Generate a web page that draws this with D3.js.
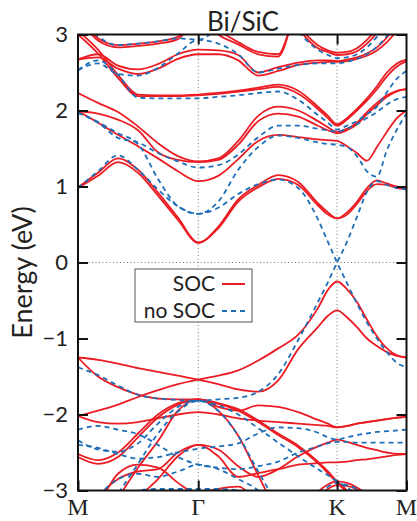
<!DOCTYPE html>
<html>
<head>
<meta charset="utf-8">
<script src="https://cdn.jsdelivr.net/npm/d3@7"></script>
<style>
  body { margin: 0; background: #fff; }
  #chart text { fill: #222; }
</style>
</head>
<body>
<div id="chart"></div>
<script>
// ------- data -------
// k path: M -> Gamma -> K -> M (path length units, |GK| = 1)
const kPoints = [0, 0.144, 0.288, 0.432, 0.576, 0.72, 0.866, 1.01, 1.154, 1.298, 1.442,
  1.586, 1.728, 1.8, 1.866, 1.937, 2.009, 2.081, 2.153, 2.225, 2.297, 2.366];
const kTickPos = [0, 0.866, 1.866, 2.366];
const kTickLabels = ["M", "Γ", "K", "M"];
const energyTicks = [-3, -2, -1, 0, 1, 2, 3];
const legendLabels = ["SOC", "no SOC"];

// SOC bands (eV), one value per kPoint
const soc01 = [0.99, 1.18, 1.37, 1.22, 0.92, 0.59, 0.26, 0.47, 0.83, 1.02, 1.15, 1.06, 0.78, 0.66, 0.58, 0.66, 0.80, 0.98, 1.08, 1.04, 1.00, 0.97];
const soc02 = [0.98, 1.14, 1.32, 1.18, 0.88, 0.56, 0.26, 0.45, 0.80, 0.99, 1.10, 1.02, 0.75, 0.63, 0.58, 0.63, 0.77, 0.94, 1.03, 1.02, 0.98, 0.97];
const soc03 = [1.99, 1.84, 1.68, 1.53, 1.37, 1.20, 1.07, 1.14, 1.36, 1.60, 1.68, 1.65, 1.62, 1.61, 1.60, 1.53, 1.44, 1.34, 1.52, 1.72, 1.90, 2.00];
const soc04 = [2.23, 2.10, 1.98, 1.79, 1.57, 1.40, 1.33, 1.37, 1.60, 1.93, 2.05, 2.00, 1.86, 1.78, 1.72, 1.76, 1.84, 1.98, 2.10, 2.20, 2.26, 2.28];
const soc05 = [1.99, 1.96, 1.88, 1.74, 1.45, 1.35, 1.32, 1.35, 1.55, 1.86, 1.96, 1.92, 1.80, 1.74, 1.70, 1.74, 1.82, 1.95, 2.07, 2.18, 2.25, 2.28];
const soc06 = [3.05, 2.80, 2.47, 2.21, 2.20, 2.20, 2.21, 2.23, 2.26, 2.30, 2.34, 2.26, 2.05, 1.93, 1.82, 1.90, 2.02, 2.16, 2.32, 2.50, 2.62, 2.67];
const soc07 = [3.00, 2.75, 2.43, 2.19, 2.19, 2.19, 2.20, 2.22, 2.25, 2.28, 2.31, 2.22, 2.02, 1.90, 1.80, 1.88, 2.00, 2.13, 2.28, 2.45, 2.58, 2.65];
const soc08 = [2.67, 2.74, 2.59, 2.54, 2.61, 2.74, 2.80, 2.79, 2.73, 2.50, 2.57, 2.63, 2.66, 2.66, 2.65, 2.67, 2.70, 2.75, 2.83, 2.96, 3.15, 3.30];
const soc09 = [2.67, 2.70, 2.55, 2.48, 2.55, 2.68, 2.74, 2.74, 2.66, 2.46, 2.52, 2.60, 2.63, 2.64, 2.64, 2.65, 2.68, 2.72, 2.79, 2.90, 3.05, 3.20];
const soc10 = [3.30, 2.95, 2.86, 2.88, 2.91, 2.97, 3.25, 3.00, 2.87, 2.74, 2.71, 3.40, 3.60, 3.60, 3.60, 3.60, 3.60, 3.60, 3.60, 3.60, 3.60, 3.60];
const soc11 = [3.25, 2.92, 2.83, 2.85, 2.88, 2.94, 3.20, 3.05, 2.90, 2.77, 2.74, 3.40, 3.60, 3.60, 3.60, 3.60, 3.60, 3.60, 3.60, 3.60, 3.60, 3.60];
const soc12 = [3.60, 3.60, 3.60, 3.60, 3.60, 3.60, 3.60, 3.60, 3.60, 3.60, 3.50, 3.08, 2.82, 2.77, 2.73, 2.74, 2.78, 2.88, 3.02, 3.20, 3.40, 3.50];
const soc13 = [3.60, 3.60, 3.60, 3.60, 3.60, 3.60, 3.60, 3.60, 3.60, 3.60, 3.50, 3.12, 2.86, 2.79, 2.76, 2.77, 2.82, 2.93, 3.08, 3.28, 3.50, 3.60];
const soc14 = [-2.02, -1.95, -1.87, -1.77, -1.68, -1.60, -1.54, -1.49, -1.42, -1.29, -1.13, -0.95, -0.60, -0.36, -0.25, -0.35, -0.52, -0.75, -0.97, -1.13, -1.22, -1.25];
const soc15 = [-1.25, -1.28, -1.33, -1.39, -1.44, -1.49, -1.54, -1.60, -1.67, -1.70, -1.55, -1.14, -0.85, -0.70, -0.63, -0.72, -0.85, -1.00, -1.10, -1.18, -1.23, -1.25];
const soc16 = [-1.25, -1.50, -1.64, -1.74, -1.79, -1.80, -1.80, -1.95, -2.28, -2.80, -3.30, -3.60, -3.60, -3.60, -3.60, -3.60, -3.60, -3.60, -3.60, -3.60, -3.60, -3.60];
const soc17 = [-2.52, -2.60, -2.50, -2.25, -2.00, -1.85, -1.80, -1.85, -1.93, -2.08, -2.25, -2.41, -2.62, -2.75, -2.88, -3.00, -3.15, -3.30, -3.50, -3.60, -3.60, -3.60];
const soc18 = [-2.56, -2.65, -2.56, -2.30, -2.04, -1.87, -1.80, -1.86, -1.95, -2.10, -2.27, -2.43, -2.64, -2.77, -2.90, -3.02, -3.17, -3.32, -3.50, -3.60, -3.60, -3.60];
const soc19 = [-3.60, -3.50, -3.10, -2.70, -2.35, -1.95, -1.80, -1.90, -1.95, -1.88, -1.90, -1.97, -2.07, -2.12, -2.17, -2.15, -2.12, -2.10, -2.08, -2.06, -2.04, -2.03];
const soc20 = [-2.02, -2.10, -2.12, -2.10, -2.05, -2.00, -1.97, -2.00, -2.05, -2.08, -2.10, -2.12, -2.14, -2.15, -2.17, -2.15, -2.12, -2.10, -2.08, -2.06, -2.04, -2.03];
const soc21 = [-3.60, -3.10, -2.85, -2.75, -2.72, -2.50, -2.40, -2.46, -2.68, -2.82, -2.72, -2.55, -2.42, -2.37, -2.33, -2.36, -2.40, -2.44, -2.47, -2.50, -2.52, -2.52];
const soc22 = [-3.60, -3.60, -3.40, -3.10, -2.85, -2.55, -2.40, -2.55, -2.82, -2.77, -2.72, -2.66, -2.64, -2.63, -2.63, -2.62, -2.60, -2.59, -2.57, -2.55, -2.53, -2.52];
const soc23 = [-3.60, -3.60, -3.60, -3.60, -3.60, -3.60, -3.60, -3.60, -3.60, -3.60, -3.60, -3.40, -3.02, -2.92, -2.88, -2.90, -2.96, -3.05, -3.20, -3.40, -3.60, -3.60];
const soc24 = [-3.60, -3.60, -3.60, -3.60, -3.60, -3.60, -3.60, -3.60, -3.60, -3.60, -3.60, -3.50, -3.10, -2.98, -2.93, -2.94, -2.99, -3.10, -3.30, -3.50, -3.60, -3.60];
const soc25 = [-3.60, -3.20, -2.78, -2.66, -2.70, -2.90, -3.10, -3.40, -3.60, -3.60, -3.60, -3.60, -3.60, -3.60, -3.60, -3.60, -3.60, -3.60, -3.60, -3.60, -3.60, -3.60];
const soc26 = [-3.60, -3.60, -3.60, -3.60, -3.40, -3.20, -3.05, -2.98, -2.95, -3.20, -3.60, -3.60, -3.60, -3.60, -3.60, -3.60, -3.60, -3.60, -3.60, -3.60, -3.60, -3.60];

// no-SOC bands (eV)
const nsoc01 = [0.98, 1.20, 1.41, 1.22, 0.96, 0.74, 0.64, 0.72, 0.90, 1.03, 1.09, 0.98, 0.57, 0.27, 0.00, -0.27, -0.54, -0.79, -1.00, -1.18, -1.32, -1.38];
const nsoc02 = [-1.38, -1.48, -1.62, -1.74, -1.79, -1.81, -1.82, -1.80, -1.78, -1.70, -1.47, -1.02, -0.52, -0.26, 0.00, 0.27, 0.60, 0.93, 1.07, 1.02, 0.98, 0.96];
const nsoc03 = [1.97, 1.85, 1.70, 1.56, 1.10, 0.74, 0.64, 0.80, 1.22, 1.52, 1.67, 1.64, 1.58, 1.56, 1.55, 1.52, 1.40, 1.20, 1.13, 1.48, 1.75, 1.96];
const nsoc04 = [1.97, 1.84, 1.64, 1.58, 1.44, 1.33, 1.25, 1.28, 1.42, 1.65, 1.80, 1.80, 1.76, 1.74, 1.72, 1.76, 1.82, 1.90, 1.98, 2.08, 2.15, 2.18];
const nsoc05 = [2.53, 2.66, 2.47, 2.17, 2.16, 2.16, 2.16, 2.18, 2.20, 2.23, 2.25, 2.14, 1.94, 1.84, 1.75, 1.80, 1.86, 1.95, 2.05, 2.24, 2.42, 2.52];
const nsoc06 = [2.53, 2.62, 2.48, 2.46, 2.56, 2.75, 2.93, 2.88, 2.74, 2.50, 2.55, 2.60, 2.62, 2.62, 2.62, 2.64, 2.68, 2.74, 2.84, 2.98, 3.15, 3.30];
const nsoc07 = [3.30, 2.98, 2.86, 2.88, 2.91, 2.95, 2.93, 3.10, 3.40, 3.60, 3.60, 3.60, 3.60, 3.60, 3.60, 3.60, 3.60, 3.60, 3.60, 3.60, 3.60, 3.60];
const nsoc08 = [3.60, 3.60, 3.60, 3.60, 3.60, 3.60, 3.60, 3.60, 3.60, 3.60, 3.50, 3.05, 2.80, 2.73, 2.69, 2.70, 2.74, 2.83, 2.97, 3.12, 3.30, 3.50];
const nsoc09 = [-3.60, -3.50, -3.05, -2.65, -2.25, -1.96, -1.82, -1.95, -2.28, -2.75, -3.20, -3.60, -3.60, -3.60, -3.60, -3.60, -3.60, -3.60, -3.60, -3.60, -3.60, -3.60];
const nsoc10 = [-2.34, -2.46, -2.49, -2.38, -2.12, -1.90, -1.82, -1.88, -2.00, -2.18, -2.37, -2.55, -2.72, -2.80, -2.88, -2.96, -3.05, -3.20, -3.40, -3.60, -3.60, -3.60];
const nsoc11 = [-2.20, -2.15, -2.20, -2.26, -2.40, -2.56, -2.66, -2.70, -2.72, -2.68, -2.62, -2.50, -2.42, -2.38, -2.36, -2.36, -2.37, -2.37, -2.37, -2.37, -2.37, -2.37];
const nsoc12 = [-2.40, -2.44, -2.52, -2.58, -2.56, -2.50, -2.45, -2.42, -2.38, -2.25, -2.17, -2.18, -2.24, -2.30, -2.33, -2.30, -2.27, -2.25, -2.23, -2.22, -2.21, -2.20];
const nsoc13 = [-3.60, -3.40, -3.10, -3.00, -2.98, -2.98, -2.98, -2.98, -3.00, -3.20, -3.50, -3.60, -3.60, -3.60, -3.60, -3.60, -3.60, -3.60, -3.60, -3.60, -3.60, -3.60];
const nsoc14 = [-3.60, -3.10, -2.85, -2.78, -2.82, -2.75, -2.66, -2.72, -2.85, -3.00, -3.30, -3.60, -3.60, -3.60, -3.60, -3.60, -3.60, -3.60, -3.60, -3.60, -3.60, -3.60];
const nsoc15 = [-3.60, -3.60, -3.60, -3.60, -3.60, -3.60, -3.60, -3.60, -3.60, -3.60, -3.60, -3.40, -3.05, -2.95, -2.90, -2.93, -2.98, -3.10, -3.30, -3.50, -3.60, -3.60];

const socBands = [soc01, soc02, soc03, soc04, soc05, soc06, soc07, soc08, soc09, soc10, soc11, soc12, soc13,
  soc14, soc15, soc16, soc17, soc18, soc19, soc20, soc21, soc22, soc23, soc24, soc25, soc26];
const noSocBands = [nsoc01, nsoc02, nsoc03, nsoc04, nsoc05, nsoc06, nsoc07, nsoc08, nsoc09, nsoc10,
  nsoc11, nsoc12, nsoc13, nsoc14, nsoc15];

// ------- chart -------
const width = 417, height = 521;
const RED = "#ec1c24";
const BLUE = "#1f6fb8";
const plot = { left: 78, right: 406.5, top: 34.5, bottom: 490.5 };

const svg = d3.select("#chart").append("svg")
  .attr("width", width).attr("height", height)
  .style("font-family", "Lato, 'Open Sans', sans-serif");

const x = d3.scaleLinear().domain([0, kTickPos[kTickPos.length - 1]]).range([plot.left, plot.right]);
const y = d3.scaleLinear().domain([-3, 3]).range([plot.bottom, plot.top]);

svg.append("defs").append("clipPath").attr("id", "clip")
  .append("rect")
  .attr("x", plot.left).attr("y", plot.top)
  .attr("width", plot.right - plot.left).attr("height", plot.bottom - plot.top);

// dotted guides at Gamma, K and E = 0
const guides = svg.append("g")
  .attr("stroke", "#777").attr("stroke-width", 1).attr("stroke-dasharray", "1,2.5");
kTickPos.slice(1, 3).forEach(k => {
  guides.append("line").attr("x1", x(k)).attr("x2", x(k)).attr("y1", plot.top).attr("y2", plot.bottom);
});
guides.append("line").attr("x1", plot.left).attr("x2", plot.right).attr("y1", y(0)).attr("y2", y(0));

const line = d3.line()
  .x((d, i) => x(kPoints[i]))
  .y(d => y(d))
  .curve(d3.curveMonotoneX);

const bands = svg.append("g").attr("clip-path", "url(#clip)").attr("fill", "none");

bands.append("g")
  .selectAll("path")
  .data(socBands)
  .join("path")
  .attr("d", line)
  .attr("stroke", RED)
  .attr("stroke-width", 1.8);

bands.append("g")
  .selectAll("path")
  .data(noSocBands)
  .join("path")
  .attr("d", line)
  .attr("stroke", BLUE)
  .attr("stroke-width", 1.8)
  .attr("stroke-dasharray", "5,4");

// axes (ticks point inward)
const styleAxis = g => {
  g.select(".domain").remove();
  g.selectAll(".tick line").attr("stroke", "#111").attr("stroke-width", 2);
};

svg.append("g")
  .attr("transform", `translate(${plot.left},0)`)
  .call(d3.axisLeft(y).tickValues(energyTicks).tickSize(-10).tickPadding(10).tickFormat(d3.format("d")))
  .call(styleAxis)
  .call(g => g.selectAll("text").attr("font-size", 22).attr("font-family", "Lato, sans-serif").attr("fill", "#222"));

svg.append("g")
  .attr("transform", `translate(${plot.right},0)`)
  .call(d3.axisRight(y).tickValues(energyTicks).tickSize(-10).tickFormat(""))
  .call(styleAxis);

svg.append("g")
  .attr("transform", `translate(0,${plot.top})`)
  .call(d3.axisTop(x).tickValues(kTickPos.slice(1, 3)).tickSize(-10).tickFormat(""))
  .call(styleAxis);

svg.append("g")
  .attr("transform", `translate(0,${plot.bottom})`)
  .call(d3.axisBottom(x).tickValues(kTickPos).tickSize(-10).tickFormat(""))
  .call(styleAxis);

// k-point labels, placed by baseline so they stay inside the picture
svg.append("g")
  .selectAll("text")
  .data(kTickPos)
  .join("text")
  .attr("x", d => x(d))
  .attr("y", 515)
  .attr("text-anchor", "middle")
  .attr("font-size", 24)
  .attr("font-family", "'Liberation Serif', 'DejaVu Serif', serif")
  .text((d, i) => kTickLabels[i]);

// frame
svg.append("rect")
  .attr("x", plot.left).attr("y", plot.top)
  .attr("width", plot.right - plot.left).attr("height", plot.bottom - plot.top)
  .attr("fill", "none").attr("stroke", "#111").attr("stroke-width", 2);

// title + y label
svg.append("text")
  .attr("x", 243).attr("y", 31)
  .attr("text-anchor", "middle")
  .attr("font-size", 26)
  .text("Bi/SiC");

svg.append("text")
  .attr("transform", `translate(32,${(plot.top + plot.bottom) / 2 + 10}) rotate(-90)`)
  .attr("text-anchor", "middle")
  .attr("font-size", 27)
  .text("Energy (eV)");

// legend
const legend = svg.append("g").attr("transform", "translate(135,269)");
legend.append("rect")
  .attr("width", 117).attr("height", 53)
  .attr("fill", "#fff").attr("stroke", "#555").attr("stroke-width", 1);

legendLabels.forEach((lab, i) => {
  const ly = 15 + i * 27;
  legend.append("text")
    .attr("x", 80).attr("y", ly + 7)
    .attr("text-anchor", "end")
    .attr("font-size", 21)
    .text(lab);
  legend.append("line")
    .attr("x1", 87).attr("x2", 110).attr("y1", ly).attr("y2", ly)
    .attr("stroke", i === 0 ? RED : BLUE)
    .attr("stroke-width", 2)
    .attr("stroke-dasharray", i === 0 ? null : "5,4");
});
</script>
</body>
</html>
